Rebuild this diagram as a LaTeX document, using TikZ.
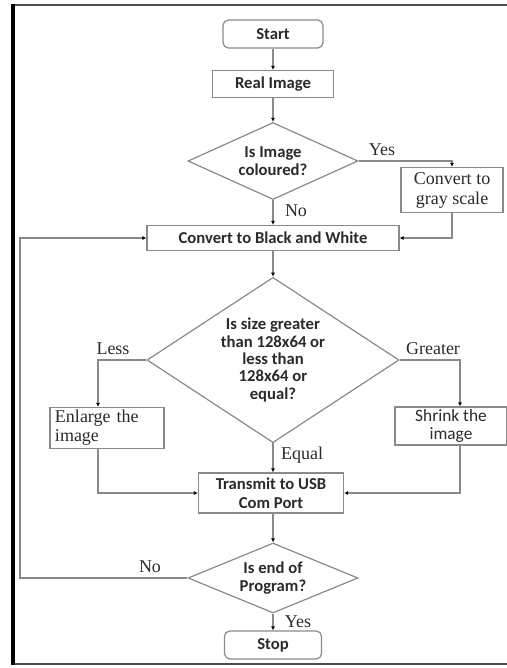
\documentclass[tikz,border=0pt]{standalone}
\usepackage{fontspec}
\setmainfont{Carlito}
\newfontfamily\lblfont{Liberation Serif}
\usetikzlibrary{shapes.geometric,arrows.meta,positioning,calc}
\definecolor{linegray}{HTML}{8A8A8A}
\definecolor{txt}{HTML}{2A2A2A}
\begin{document}
\begin{tikzpicture}[x=0.75pt,y=-0.75pt,
  every node/.style={text=txt},
  box/.style={draw=linegray,line width=0.9pt,inner sep=1pt,align=center,font=\fontsize{12.5}{14}\selectfont\bfseries},
  rbox/.style={box,rounded corners=4pt},
  dec/.style={draw=linegray,line width=0.9pt,diamond,inner sep=0pt,align=center,font=\fontsize{12.5}{13}\selectfont\bfseries},
  flow/.style={draw=linegray,line width=0.9pt,-{Latex[length=3pt,width=3pt,color=black]}},
  lbl/.style={font=\lblfont\fontsize{13.5}{15}\selectfont,text=txt,inner sep=1pt}]
\useasboundingbox (0,0) rectangle (507,668);
% frame
\draw[line width=1.2pt,draw=black!70] (13,5) -- (510,5);
\draw[line width=1.2pt,draw=black!70] (13,664) -- (510,664);
\draw[line width=2.4pt,draw=black] (13,4) -- (13,665);
% nodes
\node[rbox,minimum width=75pt,minimum height=21pt] (start) at (273,34) {Start};
\node[box,minimum width=90.75pt,minimum height=20.25pt] (real) at (273,84) {Real Image};
\node[dec,minimum width=127.5pt,minimum height=57.75pt,shape aspect=2.2] (d1) at (273,161) {Is Image\\[1pt]coloured?};
\node[box,font=\lblfont\fontsize{13.5}{15}\selectfont,minimum width=76.5pt,minimum height=33.75pt] (gray) at (452,190) {Convert to\\gray scale};
\node[box,minimum width=189pt,minimum height=18.75pt] (bw) at (273,238) {Convert to Black and White};
\node[dec,minimum width=189pt,minimum height=124pt,shape aspect=1.53] (d2) at (273,360) {Is size greater\\than 128x64 or\\less than\\128x64 or\\equal?};
\node[box,font=\lblfont\fontsize{13.5}{14}\selectfont,align=left,minimum width=85.5pt,minimum height=30.75pt,text width=78pt] (enl) at (107,428) {Enlarge the\\image};
\node[box,font=\fontsize{13}{14}\selectfont,minimum width=84pt,minimum height=28.5pt] (shr) at (451,426) {Shrink the\\image};
\node[box,minimum width=108.75pt,minimum height=30pt] (usb) at (271,493) {Transmit to USB\\Com Port};
\node[dec,minimum width=127.5pt,minimum height=52.5pt,shape aspect=2.4] (d3) at (273,578) {Is end of\\Program?};
\node[rbox,minimum width=72.75pt,minimum height=21pt] (stop) at (273,645) {Stop};
\coordinate (loop) at (20,578);
% connectors
\draw[flow] (start) -- (real);
\draw[flow] (real) -- (d1);
\draw[flow] (d1.east) -| (gray.north);
\node[lbl] (yes1) at (382,150) {Yes};
\draw[flow] (d1.south) -- (bw.north -| d1.south);
\node[lbl] (no1) at (296,211) {No};
\draw[flow] (gray.south) |- (bw.east);
\draw[flow] (bw.south -| d2.north) -- (d2.north);
\draw[flow] (d2.west) -| ([xshift=-6.75pt]enl.north);
\node[lbl] (less) at (113,349) {Less};
\draw[flow] (d2.east) -| ([xshift=6.75pt]shr.north);
\node[lbl] (greater) at (433,349) {Greater};
\draw[flow] (d2.south) -- (usb.north -| d2.south);
\node[lbl] (equal) at (302,455) {Equal};
\draw[flow] ([xshift=-6.75pt]enl.south) |- (usb.west);
\draw[flow] ([xshift=6.75pt]shr.south) |- (usb.east);
\draw[flow] (usb.south -| d3.north) -- (d3.north);
\draw[flow] (d3.south) -- (stop.north -| d3.south);
\node[lbl] (yes2) at (298,622) {Yes};
\draw[flow] (d3.west) -- (loop) |- (bw.west);
\node[lbl] (no2) at (150,567) {No};
\end{tikzpicture}
\end{document}
